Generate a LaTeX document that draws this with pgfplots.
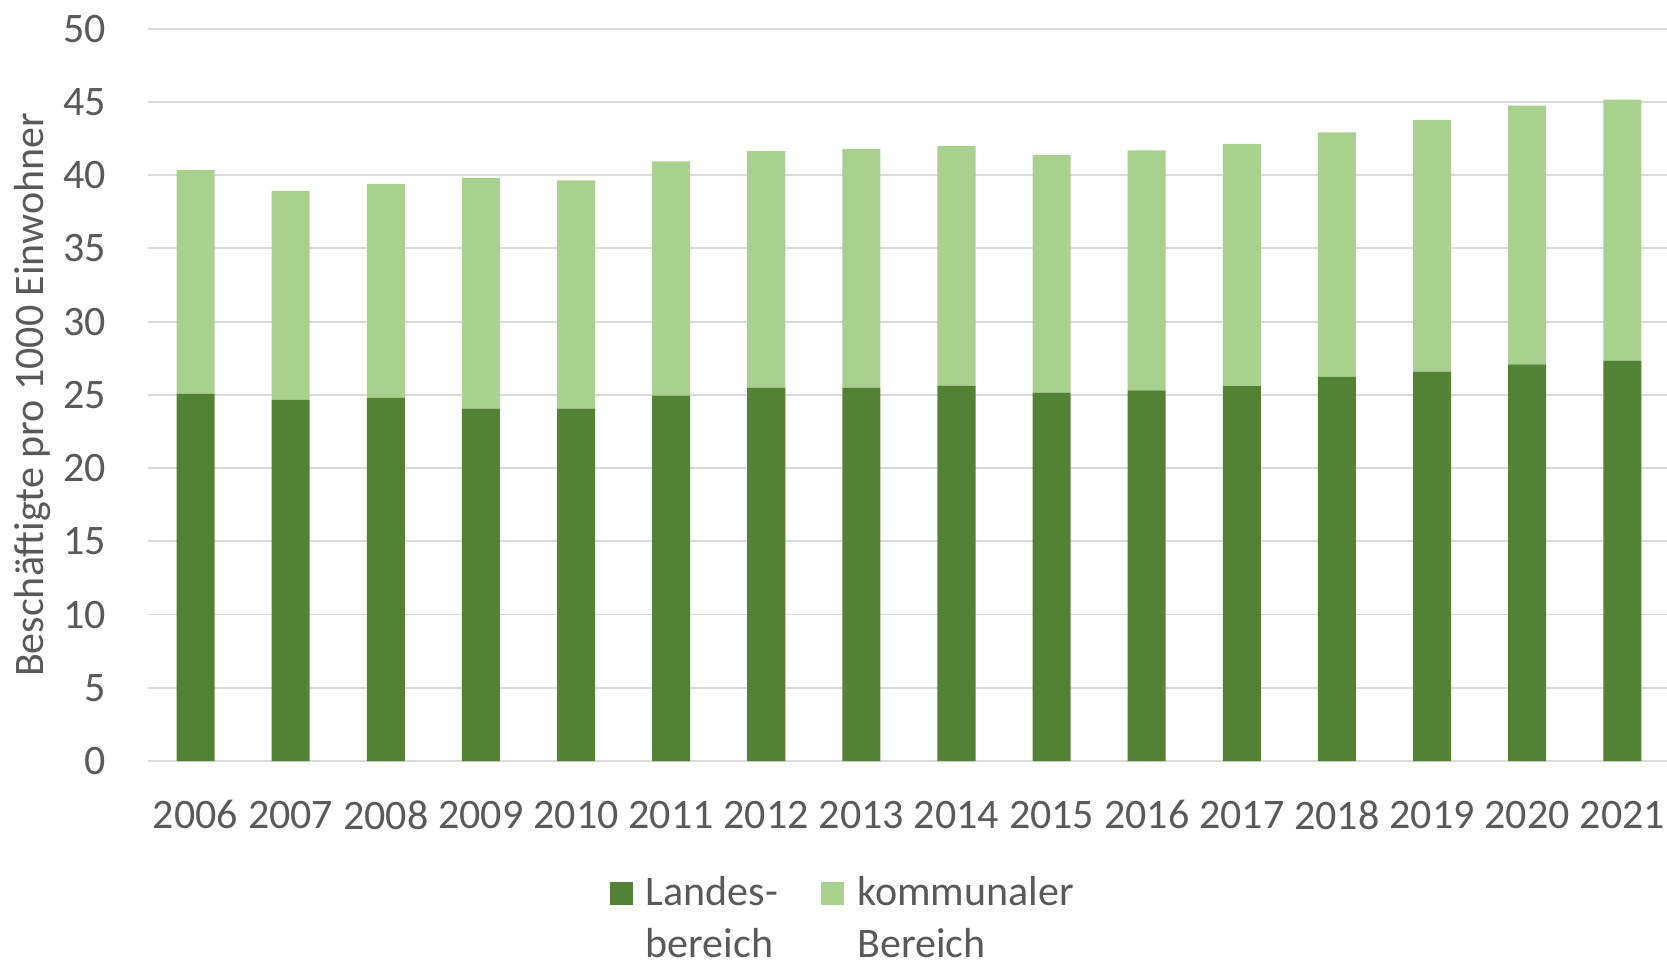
\documentclass[border=0pt]{standalone}
\usepackage{fontspec}
\setmainfont{Carlito}
\usepackage{pgfplots}
\pgfplotsset{compat=1.18}
\definecolor{dgreen}{HTML}{548235}
\definecolor{lgreen}{HTML}{A9D18E}
\definecolor{gridc}{HTML}{D9D9D9}
\definecolor{txt}{HTML}{595959}
\newcommand\lfont{\fontsize{10.5bp}{13bp}\selectfont}
\begin{document}
\begin{tikzpicture}
\begin{axis}[
  scale only axis,
  width=379.75bp, height=183.1bp,
  ybar stacked, bar width=9.51bp,
  xmin=-0.5, xmax=15.47,
  ymin=0, ymax=50,
  ytick={0,5,...,50},
  xtick={0,...,15},
  xticklabels={2006,2007,2008,2009,2010,2011,2012,2013,2014,2015,2016,2017,2018,2019,2020,2021},
  ymajorgrids, grid style={gridc, line width=0.45bp},
  axis line style={draw=none},
  major tick length=0pt, tick style={draw=none},
  /pgf/number format/assume math mode=true,
  every tick label/.append style={font=\lfont, text=txt, inner sep=0pt},
  yticklabel style={anchor=east, xshift=-10.3bp},
  xticklabel style={anchor=center, yshift=-13.45bp},
  ylabel={Beschäftigte pro 1000 Einwohner},
  every axis y label/.style={at={([xshift=-26.2bp]axis description cs:0,0.5)}, rotate=90, anchor=base, font=\lfont, text=txt},
  legend columns=2,
  legend style={draw=none, fill=none, inner sep=0pt, outer sep=0pt,
    at={(axis description cs:0.3041,-0.1366)}, anchor=north west,
    column sep=0pt,
    /tikz/every odd column/.append style={column sep=1.25bp},
    /tikz/every even column/.append style={column sep=8.85bp},
    cells={anchor=base west, inner sep=0pt, font=\lfont, text=txt}},
  legend image code/.code={\fill[#1] (0bp,0bp) rectangle (5.75bp,5.75bp);},
]
\addplot[fill=dgreen, draw=none] coordinates {
(0,25.09) (1,24.66) (2,24.82) (3,24.07) (4,24.07) (5,24.95) (6,25.50) (7,25.50)
(8,25.64) (9,25.16) (10,25.30) (11,25.59) (12,26.23) (13,26.59) (14,27.09) (15,27.34)};
\addlegendentry{\lfont\begin{tabular}[t]{@{}l@{}}Landes-\\bereich\end{tabular}}
\addplot[fill=lgreen, draw=none] coordinates {
(0,15.26) (1,14.27) (2,14.59) (3,15.75) (4,15.57) (5,15.99) (6,16.14) (7,16.30)
(8,16.36) (9,16.23) (10,16.39) (11,16.55) (12,16.69) (13,17.19) (14,17.65) (15,17.81)};
\addlegendentry{\lfont\begin{tabular}[t]{@{}l@{}}kommunaler\\Bereich\end{tabular}}
\end{axis}
\pgfresetboundingbox
\useasboundingbox (-37bp,-49.7bp) rectangle (379.75bp,190.275bp);
\end{tikzpicture}
\end{document}
